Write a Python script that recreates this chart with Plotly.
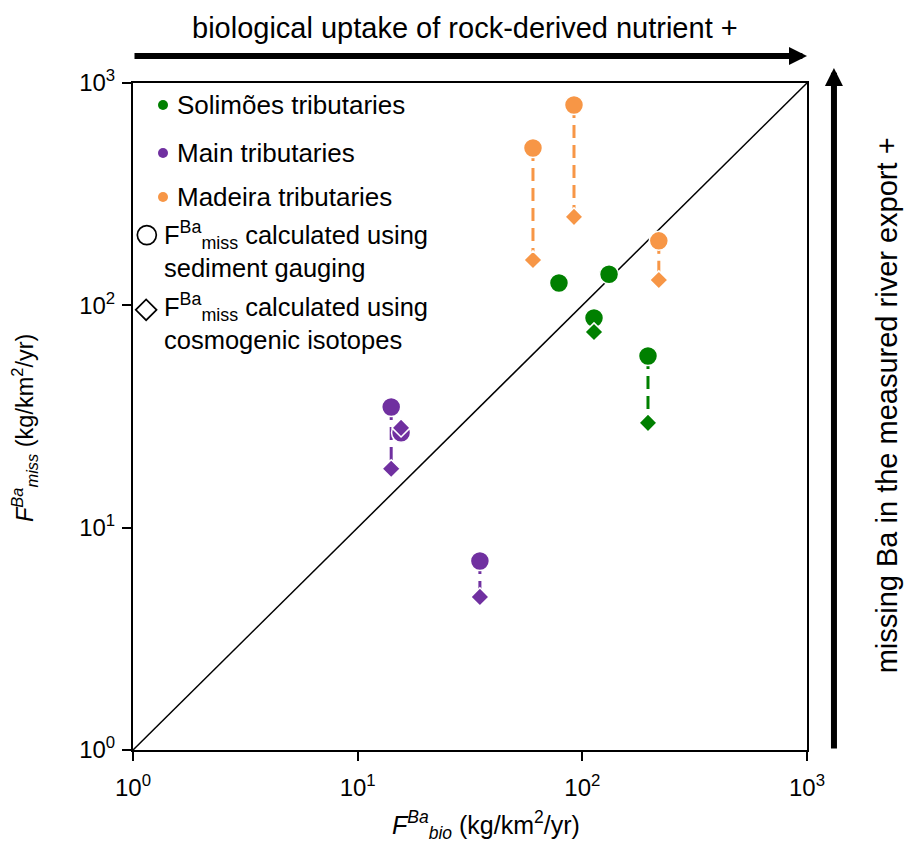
import plotly.graph_objects as go

# ---------------- data ----------------
solimoes_x = [78.7, 131.5, 112.7, 196.0]
solimoes_sed = [126.0, 138.0, 87.7, 59.2]
solimoes_cosmo = [None, None, 75.9, 29.6]

main_x = [14.1, 15.6, 35.0]
main_sed = [34.9, 26.7, 7.08]
main_cosmo = [18.4, 28.1, 4.88]

madeira_x = [60.3, 91.8, 219.0]
madeira_sed = [510.0, 796.0, 195.0]
madeira_cosmo = [160.0, 250.0, 130.0]

series_names = ["Solimões tributaries", "Main tributaries", "Madeira tributaries"]
series_colors = ["#008000", "#7030A0", "#F79646"]

tick_vals = [1, 10, 100, 1000]
tick_text = ["10<sup>0</sup>", "10<sup>1</sup>", "10<sup>2</sup>", "10<sup>3</sup>"]

FONT = "Liberation Sans, Arial, Helvetica, sans-serif"

series = [
    (solimoes_x, solimoes_sed, solimoes_cosmo),
    (main_x, main_sed, main_cosmo),
    (madeira_x, madeira_sed, madeira_cosmo),
]

fig = go.Figure()

# 1:1 line
fig.add_trace(go.Scatter(x=[1, 1000], y=[1, 1000], mode="lines",
                         line=dict(color="black", width=1.5), showlegend=False,
                         hoverinfo="skip"))

# dashed connectors
for (xs, sed, cos), col in zip(series, series_colors):
    cx, cy = [], []
    for x, a, b in zip(xs, sed, cos):
        if b is None:
            continue
        cx += [x, x, None]
        cy += [a, b, None]
    fig.add_trace(go.Scatter(x=cx, y=cy, mode="lines",
                             line=dict(color=col, width=3, dash="13px,7px"),
                             showlegend=False, hoverinfo="skip"))

# circles (sediment gauging)
for (xs, sed, cos), col, nm in zip(series, series_colors, series_names):
    fig.add_trace(go.Scatter(x=xs, y=sed, mode="markers", name=nm,
                             marker=dict(symbol="circle", size=19, color=col,
                                         line=dict(color="white", width=1.5)),
                             showlegend=False, cliponaxis=False))
# diamonds (cosmogenic)
for (xs, sed, cos), col, nm in zip(series, series_colors, series_names):
    fig.add_trace(go.Scatter(x=xs, y=cos, mode="markers", name=nm,
                             marker=dict(symbol="diamond", size=14, color=col,
                                         line=dict(color="white", width=1.5)),
                             showlegend=False, cliponaxis=False))

# ---------------- custom legend (overlay axes 0..1) ----------------
leg_dot_y = [0.967, 0.895, 0.829]
fig.add_trace(go.Scatter(x=[0.0445] * 3, y=leg_dot_y, mode="markers",
                         marker=dict(size=10, color=series_colors),
                         xaxis="x2", yaxis="y2", showlegend=False,
                         cliponaxis=False, hoverinfo="skip"))
fig.add_trace(go.Scatter(x=[0.0205], y=[0.772], mode="markers",
                         marker=dict(symbol="circle-open", size=19,
                                     color="black", line=dict(width=1.7)),
                         xaxis="x2", yaxis="y2", showlegend=False,
                         cliponaxis=False, hoverinfo="skip"))
fig.add_trace(go.Scatter(x=[0.0195], y=[0.660], mode="markers",
                         marker=dict(symbol="diamond-open", size=16,
                                     color="black", line=dict(width=1.7)),
                         xaxis="x2", yaxis="y2", showlegend=False,
                         cliponaxis=False, hoverinfo="skip"))

annotations = []
for nm, yy in zip(series_names, leg_dot_y):
    annotations.append(dict(x=0.063, y=yy, xref="paper", yref="paper",
                            text=nm, showarrow=False, xanchor="left",
                            yanchor="middle", font=dict(size=26)))
annotations.append(dict(x=0.0425, y=0.750, xref="paper", yref="paper",
                        text="F<sup>Ba</sup><sub>miss</sub> calculated using<br>sediment gauging",
                        showarrow=False, xanchor="left", yanchor="middle",
                        align="left", font=dict(size=25.5)))
annotations.append(dict(x=0.0425, y=0.643, xref="paper", yref="paper",
                        text="F<sup>Ba</sup><sub>miss</sub> calculated using<br>cosmogenic isotopes",
                        showarrow=False, xanchor="left", yanchor="middle",
                        align="left", font=dict(size=25.5)))

# axis titles
annotations.append(dict(x=0.524, y=-0.112, xref="paper", yref="paper",
                        text="<i>F<sup>Ba</sup><sub>bio</sub></i> (kg/km<sup>2</sup>/yr)",
                        showarrow=False, xanchor="center", yanchor="middle",
                        font=dict(size=25)))
annotations.append(dict(x=-0.160, y=0.483, xref="paper", yref="paper",
                        text="<i>F<sup>Ba</sup><sub>miss</sub></i> (kg/km<sup>2</sup>/yr)",
                        showarrow=False, xanchor="center", yanchor="middle",
                        textangle=-90, font=dict(size=23.5)))

# top arrow + text
annotations.append(dict(x=1.0, y=1.0405, xref="paper", yref="paper",
                        ax=-674, ay=0, axref="pixel", ayref="pixel", text="",
                        showarrow=True, arrowhead=2, arrowsize=0.6,
                        arrowwidth=6, arrowcolor="black"))
annotations.append(dict(x=0.4926, y=1.0825, xref="paper", yref="paper",
                        text="biological uptake of rock-derived nutrient +",
                        showarrow=False, xanchor="center", yanchor="middle",
                        font=dict(size=29)))
# right arrow + text
annotations.append(dict(x=1.040, y=1.0225, xref="paper", yref="paper",
                        ax=0, ay=682, axref="pixel", ayref="pixel", text="",
                        showarrow=True, arrowhead=2, arrowsize=0.6,
                        arrowwidth=6, arrowcolor="black"))
annotations.append(dict(x=1.119, y=0.517, xref="paper", yref="paper",
                        text="missing Ba in the measured river export +",
                        showarrow=False, xanchor="center", yanchor="middle",
                        textangle=-90, font=dict(size=29)))

axis_common = dict(type="log", range=[0, 3], tickvals=tick_vals, ticktext=tick_text,
                   showgrid=False, zeroline=False, showline=True, mirror=True,
                   linecolor="black", linewidth=2, ticks="outside", ticklen=9,
                   tickwidth=1.5, tickcolor="black",
                   tickfont=dict(size=24, color="black"))

fig.update_layout(
    width=906, height=841,
    margin=dict(l=133, r=99, t=83, b=91),
    paper_bgcolor="white", plot_bgcolor="white",
    font=dict(family=FONT, color="black"),
    xaxis=dict(**axis_common, ticklabelstandoff=6),
    yaxis=dict(**axis_common, ticklabelstandoff=2),
    xaxis2=dict(range=[0, 1], overlaying="x", visible=False, fixedrange=True),
    yaxis2=dict(range=[0, 1], overlaying="y", visible=False, fixedrange=True),
    annotations=annotations,
    showlegend=False,
)

fig.write_html("out.html")
